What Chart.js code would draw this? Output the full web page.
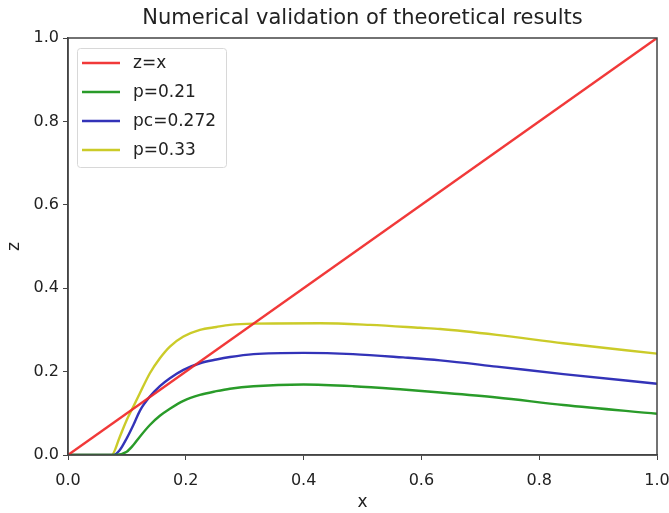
<!DOCTYPE html>
<html><head><meta charset="utf-8">
<script src="https://cdn.jsdelivr.net/npm/chart.js@4/dist/chart.umd.min.js"></script>
<style>html,body{margin:0;padding:0;background:#fff}#wrap{width:669px;height:513px}</style>
</head><body><div id="wrap"><canvas id="c" width="669" height="513"></canvas></div>
<script>
const xTicks = [0, 0.2, 0.4, 0.6, 0.8, 1.0];
const yTicks = [0, 0.2, 0.4, 0.6, 0.8, 1.0];
const labels = ["z=x", "p=0.21", "pc=0.272", "p=0.33"];
const chartTitle = "Numerical validation of theoretical results";
const lineX = [0, 1];
const lineZ = [0, 1];
const greenX = [0, 0.080, 0.0997, 0.111, 0.122, 0.139, 0.156, 0.173, 0.196, 0.224, 0.252, 0.275, 0.315, 0.400, 0.484, 0.569, 0.632, 0.728, 0.841, 1.0];
const greenZ = [0, 0, 0.008, 0.024, 0.044, 0.072, 0.094, 0.111, 0.130, 0.144, 0.153, 0.159, 0.165, 0.169, 0.165, 0.157, 0.150, 0.138, 0.120, 0.099];
const blueX = [0, 0.077, 0.088, 0.0997, 0.111, 0.122, 0.139, 0.156, 0.173, 0.196, 0.224, 0.252, 0.275, 0.315, 0.400, 0.484, 0.569, 0.632, 0.728, 0.841, 1.0];
const blueZ = [0, 0, 0.012, 0.040, 0.072, 0.106, 0.140, 0.165, 0.184, 0.204, 0.220, 0.229, 0.235, 0.242, 0.245, 0.242, 0.234, 0.227, 0.212, 0.194, 0.171];
const yellowX = [0, 0.074, 0.088, 0.0997, 0.111, 0.122, 0.139, 0.156, 0.173, 0.196, 0.224, 0.252, 0.275, 0.315, 0.428, 0.513, 0.598, 0.632, 0.728, 0.841, 1.0];
const yellowZ = [0, 0, 0.044, 0.084, 0.116, 0.148, 0.196, 0.232, 0.260, 0.284, 0.300, 0.307, 0.312, 0.315, 0.316, 0.312, 0.305, 0.302, 0.288, 0.268, 0.243];
const colors = ["rgba(240,40,40,0.92)", "rgba(30,150,30,0.95)", "rgba(40,40,180,0.95)", "rgba(200,200,30,0.95)"];

function pts(xs, zs){ return xs.map((x,i)=>({x:x, y:zs[i]})); }
const series = [pts(lineX,lineZ), pts(greenX,greenZ), pts(blueX,blueZ), pts(yellowX,yellowZ)];

const FONT = "'DejaVu Sans', sans-serif";

const framePlugin = {
  id: 'frame',
  afterDatasetsDraw(chart){
    const {ctx, chartArea:a} = chart;
    ctx.save();
    ctx.strokeStyle = '#444';
    ctx.lineWidth = 1.5;
    ctx.strokeRect(a.left, a.top, a.right-a.left, a.bottom-a.top);
    // title centred over the axes
    ctx.fillStyle = '#222';
    ctx.font = "21px " + FONT;
    ctx.textAlign = 'center';
    ctx.textBaseline = 'middle';
    ctx.fillText(chartTitle, (a.left + a.right) / 2, 19);
    // legend
    ctx.textAlign = 'left';
    const bx = 77, by = 48, bw = 149, bh = 119;
    ctx.fillStyle = 'rgba(255,255,255,0.85)';
    ctx.strokeStyle = '#d8d8d8';
    ctx.lineWidth = 1;
    ctx.beginPath();
    if (ctx.roundRect) ctx.roundRect(bx+0.5, by+0.5, bw, bh, 3); else ctx.rect(bx+0.5, by+0.5, bw, bh);
    ctx.fill(); ctx.stroke();
    ctx.font = "17px " + FONT;
    chart.data.datasets.forEach((ds,i)=>{
      const y = 63 + i*29;
      ctx.strokeStyle = ds.borderColor;
      ctx.lineWidth = 2.5;
      ctx.beginPath(); ctx.moveTo(82, y); ctx.lineTo(120, y); ctx.stroke();
      ctx.fillStyle = '#222';
      ctx.fillText(ds.label, 133, y + 1);
    });
    ctx.restore();
  }
};

new Chart(document.getElementById('c'), {
  type: 'line',
  data: {
    datasets: series.map((d,i)=>({
      label: labels[i], data: d, borderColor: colors[i], backgroundColor: colors[i],
      borderWidth: 2.4, pointRadius: 0, fill: false,
      cubicInterpolationMode: i===0 ? 'default' : 'monotone', tension: 0
    }))
  },
  options: {
    responsive: false, animation: false,
    layout: {padding: {left: 0, right: 12, top: 38, bottom: 0}},
    plugins: {
      legend: {display: false}, tooltip: {enabled: false},
      title: {display: false}
    },
    scales: {
      x: {
        type: 'linear', min: 0, max: 1,
        afterBuildTicks(s){ s.ticks = xTicks.map(v=>({value:v})); },
        afterFit(s){ s.height = 58; s.paddingLeft = 0; s.paddingRight = 0; },
        grid: {drawOnChartArea: false, tickLength: 5, color: '#444', tickColor: '#444'},
        border: {color: '#444', width: 1.5},
        ticks: {color: '#222', font: {family: FONT, size: 16}, padding: 11,
          callback: v => v.toFixed(1), maxRotation: 0},
        title: {display: true, text: 'x', color: '#222', font: {family: FONT, size: 17}, padding: {top: 4, bottom: 0}}
      },
      y: {
        type: 'linear', min: 0, max: 1,
        afterBuildTicks(s){ s.ticks = yTicks.map(v=>({value:v})); },
        afterFit(s){ s.width = 68; s.paddingTop = 0; s.paddingBottom = 0; },
        grid: {drawOnChartArea: false, tickLength: 5, color: '#444', tickColor: '#444'},
        border: {color: '#444', width: 1.5},
        ticks: {color: '#222', font: {family: FONT, size: 16}, padding: 4,
          callback: v => v.toFixed(1)},
        title: {display: true, text: 'z', color: '#222', font: {family: FONT, size: 17}, padding: {bottom: 0}}
      }
    }
  },
  plugins: [framePlugin]
});
</script>
</body></html>
